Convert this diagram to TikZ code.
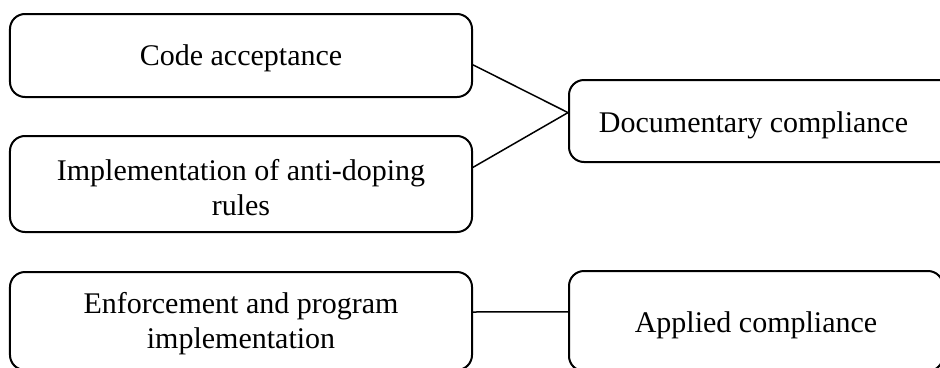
\documentclass[tikz,border=0pt]{standalone}
\usepackage{fontspec}
\setmainfont{Liberation Serif}
\usetikzlibrary{calc, positioning}

% text is set with no height, its baseline is raised from the box centre
\newcommand{\boxtext}[2]{\raisebox{#1}[0pt][0pt]{\begin{tabular}[t]{@{}c@{}}#2\end{tabular}}}

\tikzset{
    box/.style={draw, line width=0.8pt, rounded corners=6pt, minimum width=184.8pt, font=\fontsize{12}{14}\selectfont},
    widebox/.style={box, minimum width=149.6pt},
    link/.style={draw, line width=0.6pt}
}

\begin{document}
\begin{tikzpicture}[x=0.4pt, y=-0.4pt]
    \useasboundingbox (0, 0) rectangle (940, 367);
    \clip (0, 0) rectangle (940, 367);

    \node[box, minimum height=33.2pt] (code) at (241, 55.5) {\boxtext{-3.8pt}{Code acceptance}};
    \node[box, minimum height=38.4pt] (rules) at (241, 184) {\boxtext{1.6pt}{Implementation of anti-doping\\ rules}};
    \node[widebox, minimum width=154.8pt, minimum height=32.8pt] (docu) at (762.5, 121) {\boxtext{-4.4pt}{Documentary compliance}\hspace*{7.2pt}};

    \node[box, minimum height=39.2pt] (enforce) at (241, 321) {\boxtext{3.2pt}{Enforcement and program\\ implementation}};
    \node[widebox, minimum height=40pt] (applied) at (756, 321) {\boxtext{-4.4pt}{Applied compliance}};

    \draw[link] ($(code.north east)!0.61!(code.south east)$) -- ($(docu.north west)!0.4!(docu.south west)$);
    \draw[link] ($(rules.north east)!0.33!(rules.south east)$) -- ($(docu.north west)!0.4!(docu.south west)$);
    \draw[link] ($(enforce.north east)!0.41!(enforce.south east)$) -- ($(applied.north west)!0.41!(applied.south west)$);
\end{tikzpicture}
\end{document}
